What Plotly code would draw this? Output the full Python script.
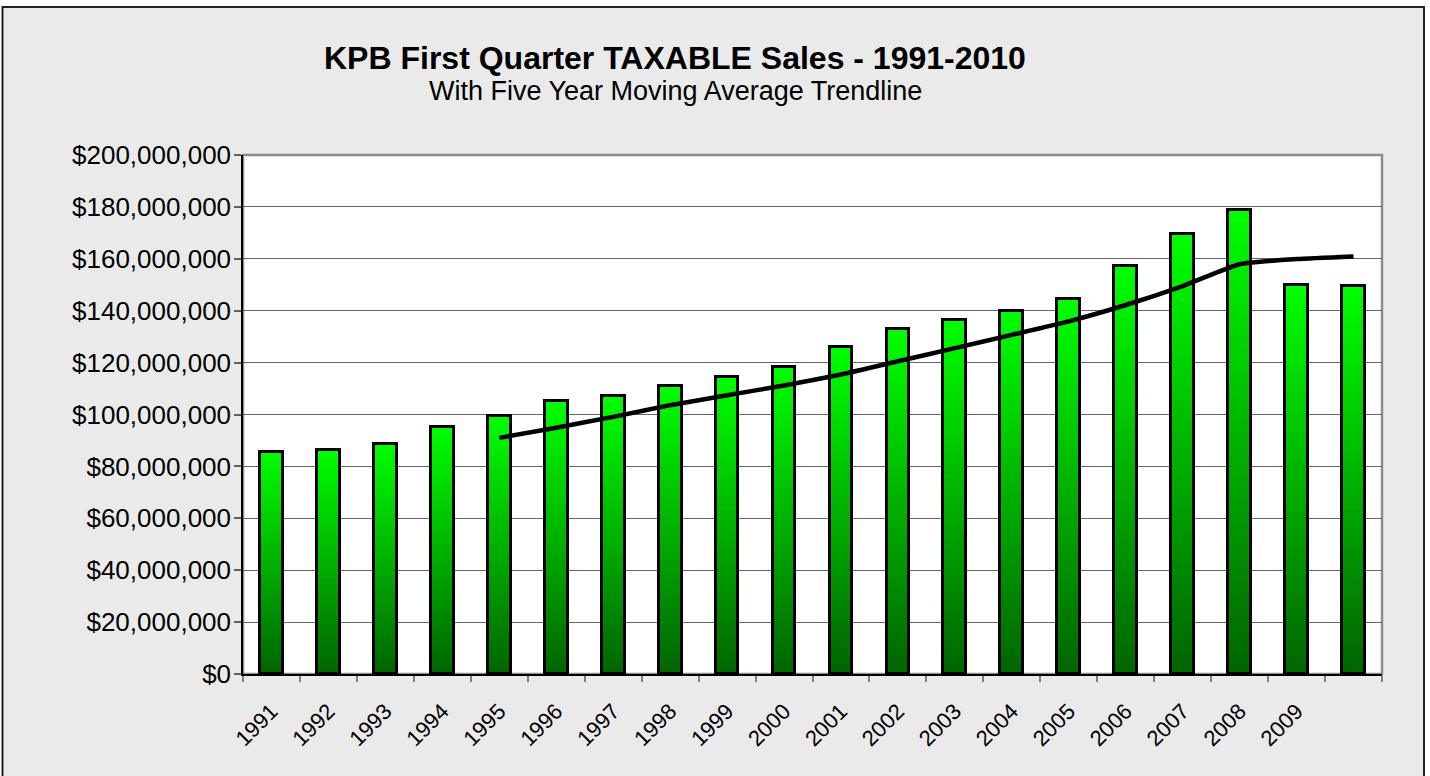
import plotly.graph_objects as go

# ---- data ----
years = [str(y) for y in range(1991, 2011)]
tick_labels = [str(y) for y in range(1991, 2010)] + [""]
sales = [85.5e6, 86.3e6, 88.7e6, 95.2e6, 99.3e6, 105.2e6, 107.1e6, 111.0e6, 114.5e6, 118.3e6,
         126.0e6, 132.9e6, 136.4e6, 139.9e6, 144.5e6, 157.2e6, 169.4e6, 178.7e6, 149.9e6, 149.4e6]
trend_years = [str(y) for y in range(1995, 2011)]
trend_vals = [91.0e6, 94.9e6, 99.1e6, 103.6e6, 107.4e6, 111.2e6, 115.4e6, 120.5e6, 125.6e6,
              130.7e6, 135.9e6, 142.2e6, 149.5e6, 157.9e6, 159.9e6, 160.9e6]
y_ticks = [i * 20e6 for i in range(11)]

# ---- layout geometry (pixels) ----
W, H = 1430, 776
L, R, T, B = 243, 1382, 155, 674
PW, PH = R - L, B - T

def px(x):
    return (x - L) / PW

def py(y):
    return (B - y) / PH

FONT = "Liberation Sans, Arial, sans-serif"
BAR_W = 0.40

fig = go.Figure()

# gradient bars built from stacked segments
N = 40
top_c = (0, 255, 0)
bot_c = (0, 100, 0)
for k in range(N):
    t = (k + 0.5) / N
    col = tuple(int(round(bot_c[i] + (top_c[i] - bot_c[i]) * t)) for i in range(3))
    extra = 0.6 if k < N - 1 else 0.0
    fig.add_trace(go.Bar(
        x=years,
        y=[v / N * (1 + extra) for v in sales],
        base=[v * k / N for v in sales],
        width=BAR_W,
        marker=dict(color="rgb(%d,%d,%d)" % col, line=dict(width=0)),
        showlegend=False, hoverinfo="skip",
    ))

# bar outlines
fig.add_trace(go.Bar(
    x=years, y=sales, width=BAR_W,
    marker=dict(color="rgba(0,0,0,0)", line=dict(color="black", width=3)),
    showlegend=False, name="Taxable Sales",
))

# five-year moving average trendline
fig.add_trace(go.Scatter(
    x=trend_years, y=trend_vals, mode="lines",
    line=dict(color="black", width=4.5, shape="spline", smoothing=0.5),
    showlegend=False, name="5 Yr Moving Avg",
))

shapes = [
    # chart area background with black border
    dict(type="rect", xref="paper", yref="paper", layer="below",
         x0=px(2.5), x1=px(1424), y0=py(790), y1=py(7),
         fillcolor="#EAEAEA", line=dict(color="#222222", width=2)),
    # plot area
    dict(type="rect", xref="paper", yref="paper", layer="below",
         x0=0, x1=1, y0=0, y1=1,
         fillcolor="white", line=dict(color="#8c8c8c", width=2.5)),
]

annotations = [
    dict(text="<b>KPB First Quarter TAXABLE Sales - 1991-2010</b>", xref="paper", yref="paper",
         x=px(675), y=py(58), xanchor="center", yanchor="middle", showarrow=False,
         font=dict(family=FONT, size=32, color="black")),
    dict(text="With Five Year Moving Average Trendline", xref="paper", yref="paper",
         x=px(675), y=py(91), xanchor="center", yanchor="middle", showarrow=False,
         font=dict(family=FONT, size=27, color="black")),
    dict(text="Chart 4.7", xref="paper", yref="paper",
         x=px(8), y=py(4), xanchor="left", yanchor="bottom", showarrow=False,
         font=dict(family=FONT, size=15, color="#777777")),
]

fig.update_layout(
    width=W, height=H,
    margin=dict(l=L, r=W - R, t=T, b=H - B, pad=0),
    paper_bgcolor="white", plot_bgcolor="white",
    barmode="overlay", bargap=0,
    shapes=shapes, annotations=annotations,
    showlegend=False,
)

fig.update_xaxes(
    type="category", range=[-0.5, 19.5],
    tickmode="array", tickvals=years, ticktext=tick_labels,
    tickson="boundaries", ticks="outside", ticklen=6, tickcolor="#808080", tickwidth=1.5,
    tickangle=-45, tickfont=dict(family=FONT, size=22, color="black"),
    ticklabelstandoff=14,
    showline=True, linecolor="black", linewidth=1.5,
    showgrid=False, zeroline=False,
)

fig.update_yaxes(
    range=[0, 200e6], tickmode="array", tickvals=y_ticks,
    tickformat="$,.0f", ticks="outside", ticklen=7, tickcolor="#606060", tickwidth=1.5,
    tickfont=dict(family=FONT, size=26, color="black"),
    showline=True, linecolor="black", linewidth=1.5,
    showgrid=True, gridcolor="#666666", gridwidth=1,
    zeroline=False, ticklabelstandoff=-2,
)

fig.write_html(
    "out.html",
    config={"displayModeBar": False},
    post_script="document.body.style.margin='0px';document.body.style.overflow='hidden';",
)
